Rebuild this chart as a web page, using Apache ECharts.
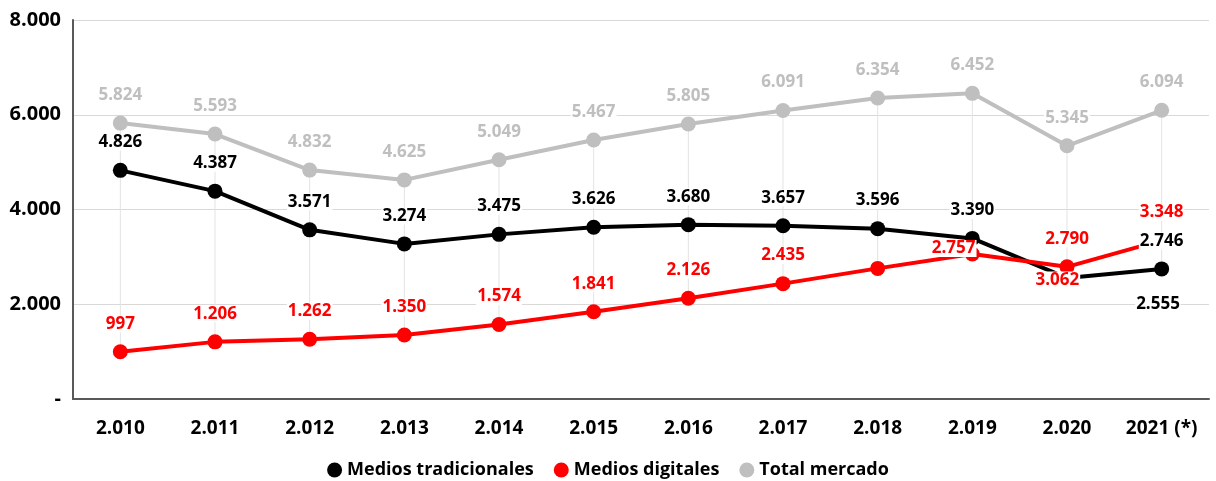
<!DOCTYPE html>
<html>
<head>
<meta charset="utf-8">
<script src="https://cdn.jsdelivr.net/npm/echarts@6/dist/echarts.min.js"></script>
<style>
  html, body { margin: 0; padding: 0; background: #fff; }
  #main { width: 1216px; height: 481px; }
</style>
</head>
<body>
<div id="main"></div>
<script>
// datos
var years = ['2.010', '2.011', '2.012', '2.013', '2.014', '2.015', '2.016', '2.017', '2.018', '2.019', '2.020', '2021 (*)'];
var tradicionales = [4826, 4387, 3571, 3274, 3475, 3626, 3680, 3657, 3596, 3390, 2555, 2746];
var digitales = [997, 1206, 1262, 1350, 1574, 1841, 2126, 2435, 2757, 3062, 2790, 3348];
var total = [5824, 5593, 4832, 4625, 5049, 5467, 5805, 6091, 6354, 6452, 5345, 6094];
var yTicks = [0, 2000, 4000, 6000, 8000];

var FONT = '"Open Sans", "Noto Sans", sans-serif';

function fmt(v) {
  if (v === 0) return '-';
  return String(v).replace(/\B(?=(\d{3})+(?!\d))/g, '.');
}

// etiquetas movidas a mano en el original
var labelOffsets = {
  digitales: { 8: [76, 8], 9: [85, 54] },
  tradicionales: { 10: [91, 54] }
};

function buildData(arr, key) {
  return arr.map(function (v, i) {
    var off = labelOffsets[key] && labelOffsets[key][i];
    if (off) return { value: v, label: { offset: off } };
    return v;
  });
}

// lineas max-min por categoria
var hiLo = years.map(function (y, i) {
  var vals = [tradicionales[i], digitales[i], total[i]];
  return [i, Math.min.apply(null, vals), Math.max.apply(null, vals)];
});

function lineSeries(name, arr, key, color) {
  return {
    name: name,
    type: 'line',
    data: buildData(arr, key),
    symbol: 'circle',
    symbolSize: 15,
    itemStyle: { color: color },
    lineStyle: { color: color, width: 4 },
    z: 3,
    label: {
      show: true,
      position: 'top',
      distance: 12,
      color: color,
      fontFamily: FONT,
      fontWeight: 'bold',
      fontSize: 17,
      backgroundColor: '#fff',
      padding: [0, 1],
      formatter: function (p) { return fmt(p.value); }
    }
  };
}

var myChart = echarts.init(document.getElementById('main'));
myChart.setOption({
  animation: false,
  grid: { left: 73, right: 7, top: 20, bottom: 82, containLabel: false },
  legend: {
    top: 456,
    left: 'center',
    icon: 'circle',
    itemWidth: 15,
    itemHeight: 15,
    itemGap: 20,
    data: ['Medios tradicionales', 'Medios digitales', 'Total mercado'],
    textStyle: { fontFamily: FONT, fontWeight: 'bold', fontSize: 18, color: '#000' }
  },
  xAxis: {
    type: 'category',
    data: years,
    boundaryGap: true,
    axisLine: { lineStyle: { color: '#595959', width: 2 } },
    axisTick: { alignWithLabel: true, interval: 0, length: 8, lineStyle: { color: '#595959', width: 2 } },
    axisLabel: { interval: 0, margin: 20, color: '#000', fontFamily: FONT, fontWeight: 'bold', fontSize: 19 },
    splitLine: { show: false }
  },
  yAxis: {
    type: 'value',
    min: yTicks[0],
    max: yTicks[yTicks.length - 1],
    interval: 2000,
    axisLine: { show: true, lineStyle: { color: '#595959', width: 2 } },
    axisTick: { show: false },
    axisLabel: { margin: 12, color: '#000', fontFamily: FONT, fontWeight: 'bold', fontSize: 20, formatter: fmt },
    splitLine: { lineStyle: { color: '#d9d9d9', width: 1 } }
  },
  series: [
    {
      type: 'custom',
      z: 1,
      silent: true,
      data: hiLo,
      renderItem: function (params, api) {
        var a = api.coord([api.value(0), api.value(1)]);
        var b = api.coord([api.value(0), api.value(2)]);
        return {
          type: 'line',
          shape: { x1: a[0], y1: a[1], x2: b[0], y2: b[1] },
          style: { stroke: '#e3e3e3', lineWidth: 1 }
        };
      }
    },
    lineSeries('Medios tradicionales', tradicionales, 'tradicionales', '#000000'),
    lineSeries('Medios digitales', digitales, 'digitales', '#ff0000'),
    lineSeries('Total mercado', total, 'total', '#bfbfbf')
  ]
});
</script>
</body>
</html>
